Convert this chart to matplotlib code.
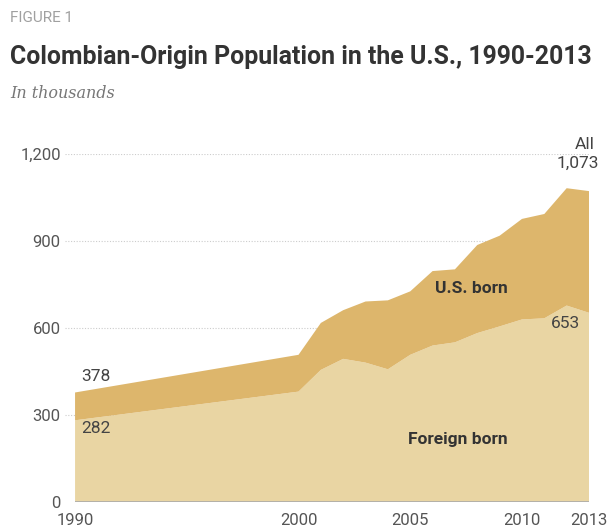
import matplotlib as mpl
mpl.use("Agg")
import matplotlib.pyplot as plt
import numpy as np

#-------------------------------------------------------------------------------

# Values (thousands)
years = [1990, 2000, 2001, 2002, 2003, 2004, 2005, 2006, 2007, 2008, 2009, 2010, 2011, 2012, 2013]
total = [378, 508, 618, 662, 692, 696, 727, 797, 803, 887, 919, 977, 994, 1083, 1073]
foreign_born = [282, 381, 456, 494, 481, 458, 508, 540, 551, 583, 606, 630, 634, 678, 653]

y_ticks = [0, 300, 600, 900, 1200]
y_tick_labels = ["0", "300", "600", "900", "1,200"]
x_ticks = [1990, 2000, 2005, 2010, 2013]

# Colors
col_us = "#DDB66C"
col_foreign = "#E9D5A3"
col_text = "#444444"

#-------------------------------------------------------------------------------

def plot_population():
  """ Stacked area chart of Colombian-origin population.
  """
  us_born = np.array(total) - np.array(foreign_born)

  fig = plt.figure(figsize=(6.08, 5.31), dpi=100)
  ax = fig.add_axes([65/608, 29/531, 524/608, 347.7/531])

  ax.stackplot(years, foreign_born, us_born, colors=[col_foreign, col_us], linewidth=0)

  # dotted grid lines and baseline
  for y in y_ticks[1:]:
    ax.axhline(y, color="#cccccc", linestyle=(0, (1, 1.5)), linewidth=0.8, zorder=0)
  ax.hlines(0, years[0], years[-1], color="#aaaaaa", linewidth=1.2, zorder=3)

  ax.set_xlim(1989.55, 2013)
  ax.set_ylim(0, 1200)
  for s in ax.spines.values():
    s.set_visible(False)

  ax.set_yticks(y_ticks)
  ax.set_yticklabels(y_tick_labels)
  ax.set_xticks(x_ticks)
  ax.set_xticklabels([str(x) for x in x_ticks])
  ax.tick_params(axis="y", length=0, pad=3, labelsize=12, labelcolor="#555555")
  ax.tick_params(axis="x", length=0, pad=8, labelsize=12, labelcolor="#555555")

  # value labels
  lab = dict(textcoords="offset pixels", ha="center", va="center", fontsize=12.5, color=col_text, annotation_clip=False)
  ax.annotate("{}".format(total[0]), (years[0], total[0]), xytext=(21, 16), **lab)
  ax.annotate("{}".format(foreign_born[0]), (years[0], foreign_born[0]), xytext=(21, -8), **lab)
  ax.annotate("{}".format(foreign_born[-1]), (years[-1], foreign_born[-1]), xytext=(-24, -11), **lab)
  ax.annotate("{:,}".format(total[-1]), (years[-1], total[-1]), xytext=(-11, 28), **lab)
  ax.annotate("All", (years[-1], total[-1]), xytext=(-4, 47), **lab)

  # series labels
  ax.text(2007.72, 737, "U.S. born", ha="center", va="center", fontsize=12.5, fontweight="bold", color="#333333")
  ax.text(2007.14, 217, "Foreign born", ha="center", va="center", fontsize=12.5, fontweight="bold", color="#333333")

  # header texts
  fig.text(10/608, 1 - 18/531, "FIGURE 1", ha="left", va="center", fontsize=11, color="#a0a0a0")
  fig.text(10/608, 1 - 57/531, "Colombian-Origin Population in the U.S., 1990-2013", ha="left", va="center",
           fontsize=17.9, fontweight="bold", color="#333333")
  fig.text(10/608, 1 - 93/531, "In thousands", ha="left", va="center", fontsize=11.5, style="italic",
           family="DejaVu Serif", color="#777777")

  fig.savefig("out.png", dpi=100)
  plt.close(fig)

#-------------------------------------------------------------------------------

def main():
  plt.rcParams["font.family"] = ["Roboto", "DejaVu Sans"]
  plot_population()

#-------------------------------------------------------------------------------

if __name__ == "__main__":
  main()
